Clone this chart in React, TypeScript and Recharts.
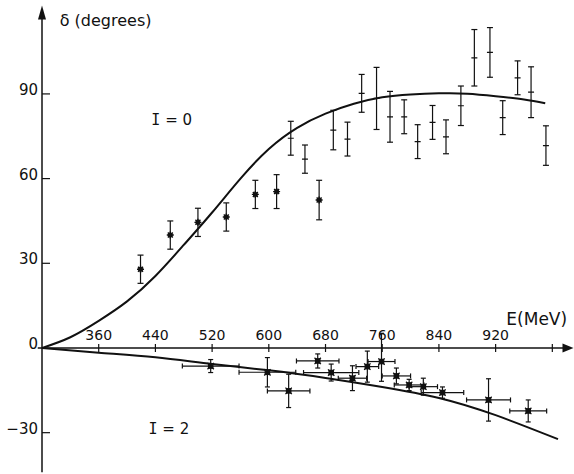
import React from 'react';
import {
  ComposedChart, Line, Scatter, ErrorBar, XAxis, YAxis,
  ReferenceLine, ReferenceDot,
} from 'recharts';

// I = 0 phase shift, points drawn with a star
const i0StarE = [419, 461, 500, 540, 581, 611, 671];
const i0StarD = [27.9, 40.0, 44.5, 46.4, 54.4, 55.4, 52.4];
const i0StarErr = [5, 5, 5, 5, 5, 6, 7];

// I = 0 phase shift, points drawn with a short bar
const i0BarE = [631, 651, 691, 711, 731, 752, 771, 791, 810, 831, 850, 871, 890, 912, 930, 951, 970, 991];
const i0BarD = [74.3, 66.9, 77.2, 74.0, 90.2, 88.4, 81.9, 81.9, 73.1, 79.9, 74.8, 85.8, 102.8, 104.7, 81.6, 95.7, 90.6, 71.7];
const i0BarErr = [6, 5, 7, 6, 6.7, 11, 9, 6, 6, 6, 6, 7, 10, 8.8, 6, 6, 9, 7];

// I = 2 phase shift
const i2E = [518, 598, 628, 669, 688, 718, 739, 759, 780, 798, 818, 845, 910, 966];
const i2D = [-6.4, -8.6, -15.2, -4.6, -8.7, -10.7, -6.6, -4.8, -9.9, -13.1, -13.7, -15.8, -18.4, -22.3];
const i2ErrY: (number | number[])[] = [2.3, 5.2, 5.9, 2.5, 3, 4.4, 5.5, [7, 10], 2.8, 2, 3, 2, 7.5, 3.9];
const i2ErrX = [40, 40, 30, 30, 39, 20, 16, 19, 20, 21, 20, 30, 31, 26];

// fitted curves
const i0CurveE = [280, 320, 360, 400, 440, 480, 520, 560, 600, 640, 680, 720, 760, 800, 840, 880, 920, 960, 990];
const i0CurveD = [0, 3.8, 9.6, 16.5, 25.5, 36.5, 48, 60, 70.5, 78, 83, 86.5, 88.8, 89.8, 90.2, 90.1, 89.2, 88, 86.7];
const i2CurveE = [280, 360, 440, 520, 600, 680, 760, 840, 920, 1008];
const i2CurveD = [0, -1.7, -3.3, -5.7, -7.9, -10.6, -13.8, -17.7, -23.8, -32.3];

const xTicks = [360, 440, 520, 600, 680, 760, 840, 920, 1000];
const xTickLabels = ['360', '440', '520', '600', '680', '760', '840', '920', ''];
const yTicks = [-30, 30, 60, 90];
const yLabels = [-30, 0, 30, 60, 90];

const E0 = 280;
const INK = '#111';
const FONT = 'DejaVu Sans, sans-serif';
const MONO = 'DejaVu Sans Mono, monospace';

const zip = (es: number[], ds: number[], extra?: Record<string, any[]>) =>
  es.map((E, i) => {
    const row: any = { E, d: ds[i] };
    if (extra) Object.keys(extra).forEach((k) => { row[k] = extra[k][i]; });
    return row;
  });

const i0Stars = zip(i0StarE, i0StarD, { ey: i0StarErr });
const i0Bars = zip(i0BarE, i0BarD, { ey: i0BarErr });
const i2Pts = zip(i2E, i2D, { ey: i2ErrY, ex: i2ErrX });
const i0Curve = zip(i0CurveE, i0CurveD);
const i2Curve = zip(i2CurveE, i2CurveD);

const Star = (p: any) => {
  const { cx, cy } = p;
  return (
    <g stroke={INK} strokeWidth={1.4}>
      <line x1={cx - 3.5} y1={cy} x2={cx + 3.5} y2={cy} />
      <line x1={cx - 2.5} y1={cy - 2.5} x2={cx + 2.5} y2={cy + 2.5} />
      <line x1={cx - 2.5} y1={cy + 2.5} x2={cx + 2.5} y2={cy - 2.5} />
      <line x1={cx} y1={cy - 3.5} x2={cx} y2={cy + 3.5} />
      <circle cx={cx} cy={cy} r={1.8} fill={INK} />
    </g>
  );
};

const Dash = (p: any) => (
  <line x1={p.cx - 3} y1={p.cy} x2={p.cx + 3} y2={p.cy} stroke={INK} strokeWidth={1.2} />
);

const Blob = (p: any) => {
  const { cx, cy } = p;
  return (
    <g stroke={INK} strokeWidth={1.2}>
      <rect x={cx - 2.2} y={cy - 2.2} width={4.4} height={4.4} fill={INK} />
      <line x1={cx - 3.2} y1={cy - 3.2} x2={cx + 3.2} y2={cy + 3.2} />
      <line x1={cx - 3.2} y1={cy + 3.2} x2={cx + 3.2} y2={cy - 3.2} />
    </g>
  );
};

const xTickShape = (label: string) => (p: any) => (
  <g>
    <line x1={p.cx} y1={p.cy - 4} x2={p.cx} y2={p.cy + 4} stroke={INK} strokeWidth={1.2} />
    <text x={p.cx} y={p.cy - 8} textAnchor="middle" fontFamily={FONT} fontSize={14} fill={INK}>
      {label}
    </text>
  </g>
);

const yTickShape = (p: any) => (
  <line x1={p.cx} y1={p.cy} x2={p.cx + 8} y2={p.cy} stroke={INK} strokeWidth={1.2} />
);

const yLabelShape = (label: string) => (p: any) => (
  <text x={p.cx - 4} y={p.cy + 1} textAnchor="end" fontFamily={FONT} fontSize={15} fill={INK}>
    {label}
  </text>
);

const textShape = (label: string, size: number, anchor: string) => (p: any) => (
  <text x={p.cx} y={p.cy} textAnchor={anchor} fontFamily={FONT} fontSize={size} fill={INK}>
    {label}
  </text>
);

// isospin label: the I is drawn with bars, like the original lettering
const isoShape = (value: string) => (p: any) => (
  <text x={p.cx} y={p.cy} textAnchor="middle" fontFamily={FONT} fontSize={15} fill={INK}>
    <tspan fontFamily={MONO}>I</tspan>
    {` = ${value}`}
  </text>
);

const arrowRight = (p: any) => (
  <polygon points={`${p.cx - 4},${p.cy - 4.5} ${p.cx + 7},${p.cy} ${p.cx - 4},${p.cy + 4.5}`} fill={INK} />
);

const arrowUp = (p: any) => (
  <polygon points={`${p.cx - 4},${p.cy + 13} ${p.cx},${p.cy - 1} ${p.cx + 4},${p.cy + 13}`} fill={INK} />
);

export default function App() {
  return (
    <div style={{ position: 'absolute', left: 0, top: 0, background: '#fff' }}>
      <ComposedChart
        width={574}
        height={474}
        margin={{ top: 6.4, right: 7.5, bottom: 1.8, left: 42 }}
      >
        <XAxis type="number" dataKey="E" domain={[280, 1020]} hide allowDataOverflow />
        <YAxis type="number" dataKey="d" domain={[-44, 121]} hide allowDataOverflow width={0} />

        {/* axes */}
        <ReferenceLine segment={[{ x: 274, y: 0 }, { x: 1016, y: 0 }]} stroke={INK} strokeWidth={1.5} ifOverflow="visible" />
        <ReferenceLine segment={[{ x: E0, y: -44 }, { x: E0, y: 117 }]} stroke={INK} strokeWidth={1.5} ifOverflow="visible" />
        <ReferenceDot x={1020} y={0} r={0} shape={arrowRight} ifOverflow="visible" />
        <ReferenceDot x={E0} y={121} r={0} shape={arrowUp} ifOverflow="visible" />

        {xTicks.map((t, i) => (
          <ReferenceDot key={`xt-${t}`} x={t} y={0} r={0} shape={xTickShape(xTickLabels[i])} ifOverflow="visible" />
        ))}
        {yTicks.map((t) => (
          <ReferenceDot key={`yt-${t}`} x={E0} y={t} r={0} shape={yTickShape} ifOverflow="visible" />
        ))}
        {yLabels.map((t) => (
          <ReferenceDot key={`yl-${t}`} x={E0} y={t} r={0} shape={yLabelShape(String(t).replace('-', '\u2212'))} ifOverflow="visible" />
        ))}

        <ReferenceDot x={305} y={114} r={0} shape={textShape('δ (degrees)', 16, 'start')} ifOverflow="visible" />
        <ReferenceDot x={978} y={8.1} r={0} shape={textShape('E(MeV)', 17, 'middle')} ifOverflow="visible" />
        <ReferenceDot x={463} y={79} r={0} shape={isoShape('0')} ifOverflow="visible" />
        <ReferenceDot x={459} y={-30.5} r={0} shape={isoShape('2')} ifOverflow="visible" />

        {/* fitted curves */}
        <Line data={i0Curve} dataKey="d" type="natural" dot={false} stroke={INK} strokeWidth={2} isAnimationActive={false} />
        <Line data={i2Curve} dataKey="d" type="natural" dot={false} stroke={INK} strokeWidth={2} isAnimationActive={false} />

        {/* measurements */}
        <Scatter data={i0Stars} dataKey="d" shape={Star} isAnimationActive={false}>
          <ErrorBar dataKey="ey" direction="y" width={3} stroke={INK} strokeWidth={1.2} isAnimationActive={false} />
        </Scatter>
        <Scatter data={i0Bars} dataKey="d" shape={Dash} isAnimationActive={false}>
          <ErrorBar dataKey="ey" direction="y" width={3} stroke={INK} strokeWidth={1.2} isAnimationActive={false} />
        </Scatter>
        <Scatter data={i2Pts} dataKey="d" shape={Blob} isAnimationActive={false}>
          <ErrorBar dataKey="ey" direction="y" width={2.5} stroke={INK} strokeWidth={1.2} isAnimationActive={false} />
          <ErrorBar dataKey="ex" direction="x" width={2.5} stroke={INK} strokeWidth={1.2} isAnimationActive={false} />
        </Scatter>
      </ComposedChart>
    </div>
  );
}
